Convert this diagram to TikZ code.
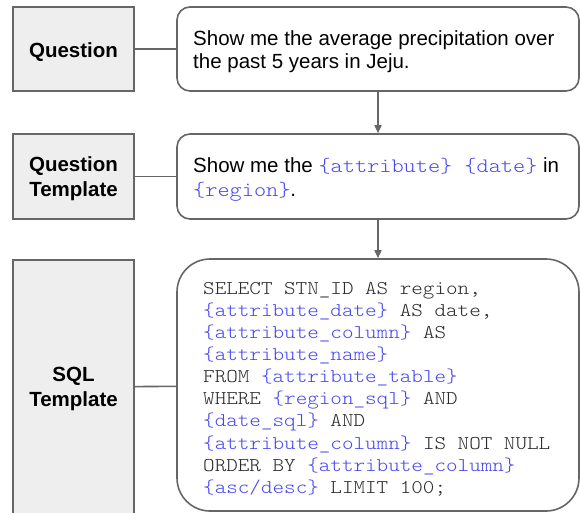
\documentclass[tikz,border=0pt]{standalone}
\usepackage{fontspec}
\setmainfont{Liberation Sans}
\setmonofont{lmmonolt10-regular}[Extension=.otf, FakeStretch=1.13]
\usetikzlibrary{arrows.meta}

\definecolor{edgegray}{HTML}{666666}
\definecolor{labelfill}{HTML}{EEEEEE}
\definecolor{varblue}{RGB}{70,70,240}
\definecolor{codegray}{HTML}{2A2A2A}

% template placeholders in blue monospace
\newcommand\tv[1]{\textcolor{varblue}{\ttfamily #1}}

\begin{document}
\begin{tikzpicture}[x=1pt,y=-1pt,
  labelbox/.style={draw=edgegray, fill=labelfill, line width=1.6pt,
    minimum width=121pt, inner sep=0pt},
  labeltext/.style={anchor=base, inner sep=0pt,
    font=\fontsize{20.5}{25}\selectfont\bfseries},
  textbox/.style={draw=edgegray, fill=white, line width=1.6pt,
    minimum width=402pt, inner sep=0pt},
  link/.style={draw=edgegray, line width=1.6pt},
  flow/.style={link, -{Triangle[length=8pt,width=7pt]}},
  prose/.style={anchor=base west, inner sep=0pt,
    font=\fontsize{20.5}{23.3}\selectfont},
  code/.style={anchor=base west, inner sep=0pt,
    font=\fontsize{19.5}{22.1}\selectfont\ttfamily\color{codegray}}]

\useasboundingbox (0,0) rectangle (580,512);
\clip (0,0) rectangle (580,512);

% row 1: natural-language question
\node[labelbox, minimum height=84pt] (qlab) at (73.5,49) {};
\node[labeltext] (qlabtext) at (73.5,57) {Question};
\node[textbox, rounded corners=13pt, minimum height=84pt] (qbox) at (378,49) {};
\node[prose] (qtext) at (193,45.3) {\begin{tabular}[t]{@{}l@{}}
  Show me the average precipitation over\\
  the past 5 years in Jeju.\end{tabular}};

% row 2: question template
\node[labelbox, minimum height=85pt] (tlab) at (73.5,176.5) {};
\node[labeltext] (tlabtext) at (73.5,171.7) {\begin{tabular}[t]{@{}c@{}}
  Question\\Template\end{tabular}};
\node[textbox, rounded corners=13pt, minimum height=85pt] (tbox) at (378,176.5) {};
\node[prose, font=\fontsize{20.5}{24}\selectfont] (ttext) at (193,172) {\begin{tabular}[t]{@{}l@{}}
  Show me the \tv{\{attribute\} \{date\}} in\\
  \tv{\{region\}}.\end{tabular}};

% row 3: SQL template
\node[labelbox, minimum height=254pt] (slab) at (73.5,387) {};
\node[labeltext] (slabtext) at (73.5,381.7) {\begin{tabular}[t]{@{}c@{}}
  SQL\\Template\end{tabular}};
\node[textbox, rounded corners=33pt, minimum height=252pt] (sbox) at (378,385) {};
\node[code] (stext) at (203,294.3) {\begin{tabular}[t]{@{}l@{}}
  SELECT STN\_ID AS region,\\
  \tv{\{attribute\_date\}} AS date,\\
  \tv{\{attribute\_column\}} AS\\
  \tv{\{attribute\_name\}}\\
  FROM \tv{\{attribute\_table\}}\\
  WHERE \tv{\{region\_sql\}} AND\\
  \tv{\{date\_sql\}} AND\\
  \tv{\{attribute\_column\}} IS NOT NULL\\
  ORDER BY \tv{\{attribute\_column\}}\\
  \tv{\{asc/desc\}} LIMIT 100;\end{tabular}};

% connectors
\draw[link] (qlab) -- (qbox);
\draw[link] (tlab) -- (tbox);
\draw[link] (slab) -- (sbox);
\draw[flow] (qbox) -- (tbox);
\draw[flow] (tbox) -- (sbox);
\end{tikzpicture}
\end{document}
